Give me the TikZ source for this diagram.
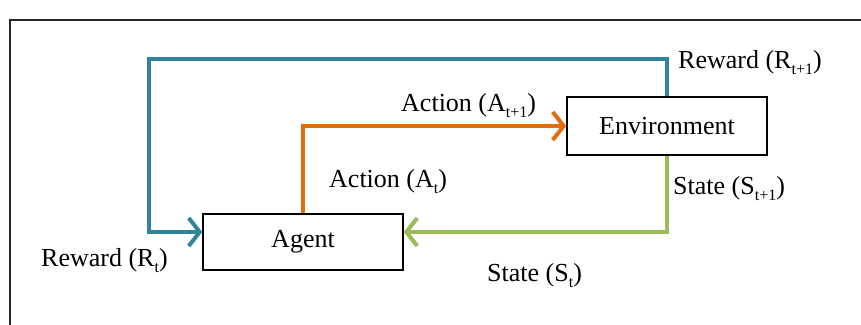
\documentclass[tikz,border=0pt]{standalone}
\usepackage{fontspec}
\setmainfont{Liberation Serif}
\usetikzlibrary{positioning,arrows.meta}
\definecolor{rewardblue}{HTML}{31849B}
\definecolor{actionorange}{HTML}{E46C0A}
\definecolor{stategreen}{HTML}{9BBB59}
\definecolor{framegray}{HTML}{262626}

\newcommand{\lowsub}[1]{\raisebox{-0.5ex}{\fontsize{16}{18}\selectfont #1}}

\tikzset{
  box/.style={draw=black, line width=1.5pt, fill=white, minimum height=56pt, inner sep=0pt},
  flow/.style={line width=4pt, -{Straight Barb[length=11pt,width=28pt]}},
  lbl/.style={anchor=west, inner sep=0pt, font=\fontsize{26}{30}\selectfont}
}

\begin{document}
\begin{tikzpicture}[x=1pt,y=-1pt]
\useasboundingbox (0,0) rectangle (861,324);
\draw[framegray, line width=2pt] (10,326) -- (10,20) -- (863,20);

\node[box, minimum width=200pt, font=\fontsize{26}{30}\selectfont] (agent) at (303,242) {Agent};
\node[box, minimum width=200pt, minimum height=58pt, font=\fontsize{26}{30}\selectfont] (env) at (667,126) {Environment};

% feedback corner
\coordinate (rtop) at (149,59);

\draw[flow, rewardblue] (env.north) |- (rtop) |- ([yshift=10pt]agent.west);
\draw[flow, actionorange] (agent.north) |- (env.west);
\draw[flow, stategreen] (env.south) |- ([yshift=10pt]agent.east);

\node[lbl] (rnext) at (678,63) {Reward (R\lowsub{t+1})};
\node[lbl] (anext) at (401,106) {Action (A\lowsub{t+1})};
\node[lbl] (anow) at (329,182) {Action (A\lowsub{t})};
\node[lbl] (snext) at (673,189) {State (S\lowsub{t+1})};
\node[lbl] (rnow) at (41,261) {Reward (R\lowsub{t})};
\node[lbl] (snow) at (487,276) {State (S\lowsub{t})};
\end{tikzpicture}
\end{document}
